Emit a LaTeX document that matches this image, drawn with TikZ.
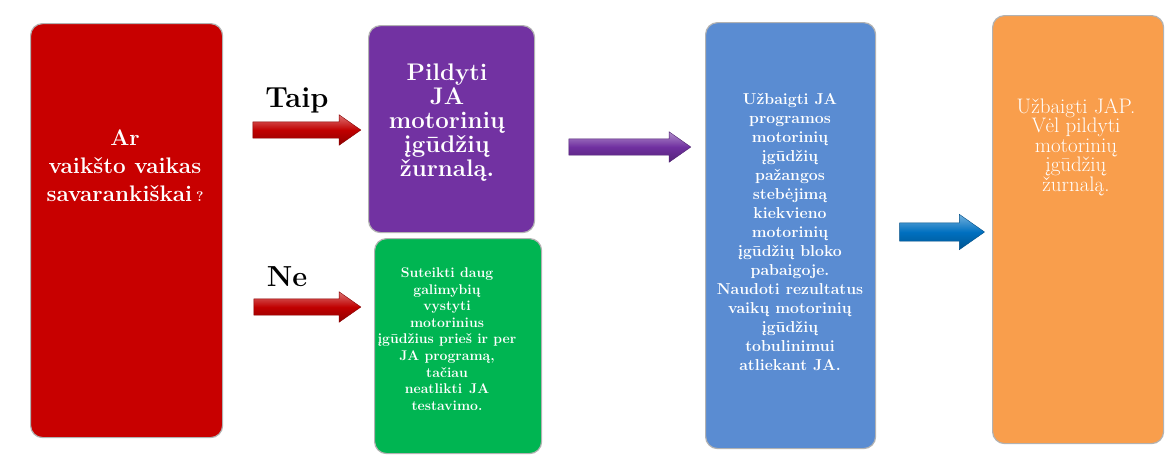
\documentclass[tikz,border=0pt]{standalone}
\usepackage{tikz}
\usetikzlibrary{shapes.arrows}
\definecolor{boxred}{HTML}{C80000}
\definecolor{boxpurple}{HTML}{7232A2}
\definecolor{boxgreen}{HTML}{00B552}
\definecolor{boxblue}{HTML}{5A8CD2}
\definecolor{boxorange}{HTML}{F99E4C}
\definecolor{arrred}{HTML}{C00000}
\definecolor{arrpurple}{HTML}{7030A0}
\definecolor{arrblue}{HTML}{0070C0}
\tikzset{
  colbox/.style = {rectangle, rounded corners=12pt, draw=black!30, line width=1.2pt, fill=#1, anchor=north west, inner sep=0pt},
  boxtext/.style = {align=center, text=white, inner sep=0pt},
  barrow/.style = {single arrow, single arrow tip angle=70, single arrow head extend=7pt, inner sep=0pt, text height=8pt, text depth=8pt, draw=#1!70!black, top color=#1!55!white, bottom color=#1!75!black, middle color=#1},
  answer/.style = {font=\bfseries\fontsize{29}{29}\selectfont, anchor=base},
}

\begin{document}
\begin{tikzpicture}[x=1pt,y=-1pt]
\useasboundingbox (0,0) rectangle (1166,464);
% boxes
\node [colbox=boxred, minimum width=192pt, minimum height=414pt] (Q) at (30,23) {};
\node [colbox=boxpurple, minimum width=166pt, minimum height=207pt] (Y) at (368,25) {};
\node [colbox=boxgreen, minimum width=167pt, minimum height=215pt] (N) at (374,238) {};
\node [colbox=boxblue, minimum width=170pt, minimum height=426pt] (M) at (705,22) {};
\node [colbox=boxorange, minimum width=171pt, minimum height=428pt] (E) at (992,15) {};

% texts
\node [boxtext, font=\bfseries\fontsize{22.5}{28}\selectfont] (Qt) at (125,166)
  {Ar\\vaikšto vaikas\\savarankiškai\,{\fontsize{14}{14}\selectfont ?}};
\node [boxtext, font=\bfseries\fontsize{24}{24}\selectfont] (Yt) at (447,123)
  {Pildyti\\JA\\motorinių\\įgūdžių\\žurnalą.};
\node [boxtext, font=\bfseries\fontsize{14}{16.6}\selectfont] (Nt) at (447,339)
  {Suteikti daug\\galimybių\\vystyti\\motorinius\\įgūdžius prieš ir per\\JA programą,\\tačiau\\neatlikti\enspace JA\\testavimo.};
\node [boxtext, font=\bfseries\fontsize{15.8}{19}\selectfont] (Mt) at (790,232)
  {Užbaigti JA\\programos\\motorinių\\įgūdžių\\pažangos\\stebėjimą\\kiekvieno\\motorinių\\įgūdžių bloko\\pabaigoje.\\Naudoti rezultatus\\vaikų motorinių\\įgūdžių\\tobulinimui\\atliekant JA.};
\node [boxtext, font=\fontsize{21}{19.5}\selectfont] (Et) at (1076,147)
  {Užbaigti JAP.\\Vėl pildyti\\motorinių\\įgūdžių\\žurnalą.};

% arrows
\node [barrow=arrred, minimum height=108pt] (A1) at (301,130) {};
\node [barrow=arrred, minimum height=107pt] (A2) at (301.5,307) {};
\node [barrow=arrpurple, minimum height=122pt] (A3) at (624,147) {};
\node [barrow=arrblue, minimum height=85pt, text height=9pt, text depth=9pt, single arrow head extend=8.5pt] (A4) at (935.5,232) {};

% answers
\node [answer] (Ta) at (297,107) {Taip};
\node [answer] (Na) at (287,286) {Ne};
\end{tikzpicture}
\end{document}
